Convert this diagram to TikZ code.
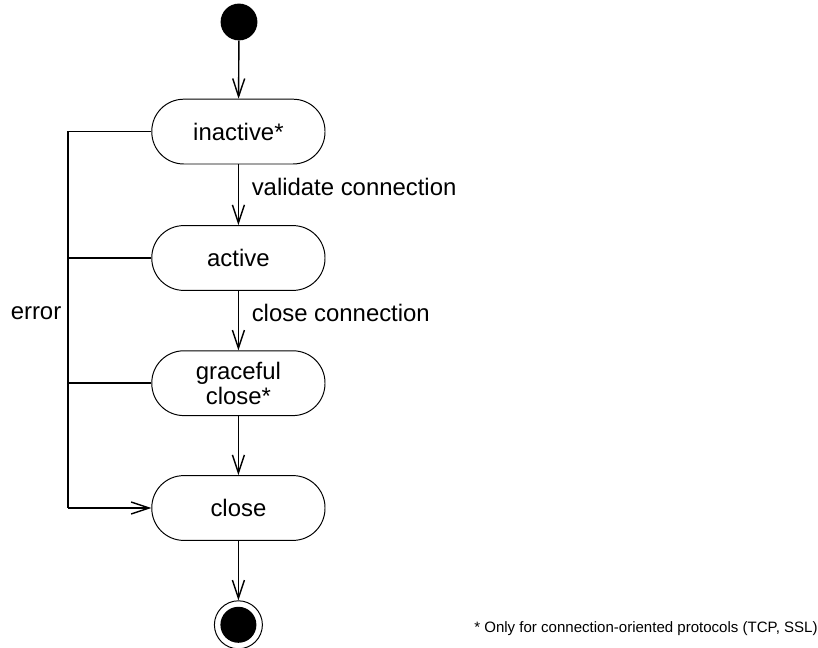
\documentclass[tikz,border=0pt]{standalone}
\usepackage{fontspec}
\setmainfont{Liberation Sans}
\usetikzlibrary{arrows.meta,positioning,calc}

\begin{document}
\begin{tikzpicture}[>={Straight Barb[length=0.45cm,width=0.3cm]},
  state/.style={draw, line width=0.7pt, rounded corners=0.8cm, minimum width=4.33cm,
    minimum height=1.62cm, align=center, font=\fontsize{17}{18}\selectfont},
  lbl/.style={font=\fontsize{17}{18}\selectfont},
  flow/.style={->, line width=1pt}]
  \useasboundingbox (0,0) rectangle (20.45,-16.175);
  \node[circle, fill, minimum size=0.92cm, inner sep=0] (start) at (5.975,-0.55) {};
  \node[state] (inactive) at (5.96,-3.29) {inactive*};
  \node[state] (active) at (5.96,-6.45) {active};
  \node[state] (graceful) at (5.96,-9.58) {graceful\\close*};
  \node[state] (close) at (5.96,-12.7) {close};
  \node[circle, draw, line width=0.7pt, minimum size=1.2cm, inner sep=0] (final) at (5.96,-15.62) {};
  \node[circle, fill, minimum size=0.9cm, inner sep=0] (finaldot) at (final) {};

  \draw[flow] (start) -- (inactive);
  \draw[flow] (inactive) -- (active) node[lbl, midway, right, xshift=0.2cm, yshift=0.2cm] {validate connection};
  \draw[flow] (active) -- (graceful) node[lbl, midway, right, xshift=0.2cm, yshift=0.2cm] {close connection};
  \draw[flow] (graceful) -- (close);
  \draw[flow] (close) -- (final);

  % error path
  \coordinate (errtop) at (1.7,-3.29);
  \coordinate (errbot) at (1.7,-12.7);
  \draw[line width=1pt] (inactive.west) -- (errtop) -- (errbot);
  \draw[flow] (errbot) -- (close.west);
  \draw[line width=1pt] (active.west) -- (errtop |- active.west);
  \draw[line width=1pt] (graceful.west) -- (errtop |- graceful.west);
  \node[lbl] (error) at (0.9,-7.83) {error};

  \node[font=\fontsize{10.7}{13}\selectfont, anchor=west, inner sep=0] (note) at (11.85,-15.72)
    {* Only for connection-oriented protocols (TCP, SSL)};
\end{tikzpicture}
\end{document}
